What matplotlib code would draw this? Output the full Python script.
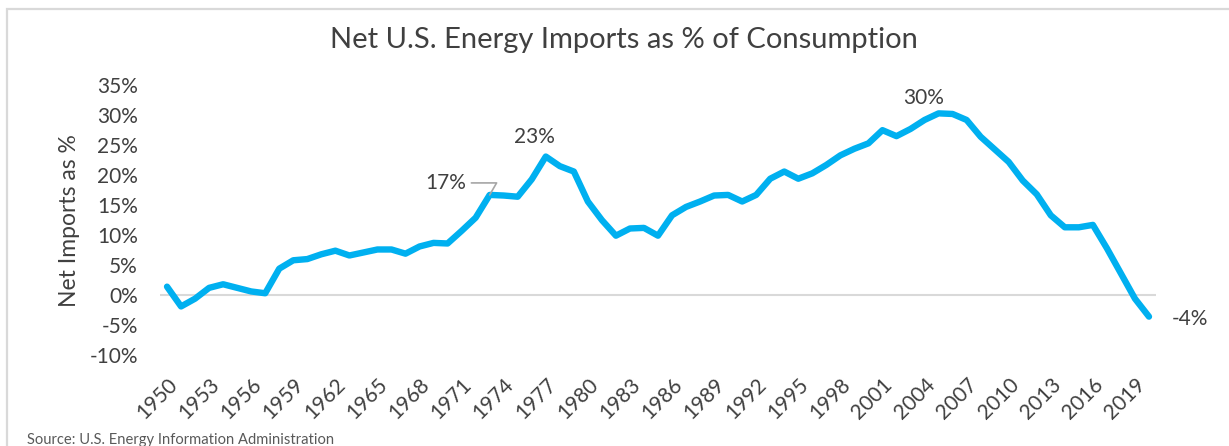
import matplotlib.pyplot as plt
from matplotlib.patches import Rectangle

years = list(range(1950, 2021))
net_imports = [
    1.4, -1.9, -0.6, 1.2, 1.8, 1.2, 0.6, 0.3, 4.4, 5.8,
    6.0, 6.8, 7.4, 6.6, 7.1, 7.6, 7.6, 6.9, 8.1, 8.7,
    8.6, 10.7, 12.9, 16.7, 16.6, 16.4, 19.3, 23.1, 21.5, 20.6,
    15.6, 12.5, 9.9, 11.1, 11.2, 9.9, 13.3, 14.7, 15.6, 16.6,
    16.7, 15.6, 16.7, 19.4, 20.6, 19.4, 20.3, 21.7, 23.3, 24.4,
    25.3, 27.5, 26.5, 27.7, 29.2, 30.3, 30.2, 29.2, 26.4, 24.3,
    22.2, 19.1, 16.8, 13.3, 11.3, 11.3, 11.7, 7.8, 3.6, -0.6,
    -3.6,
]
tick_years = list(range(1950, 2020, 3))
yticks = list(range(-10, 40, 5))

FONT = ['Lato', 'DejaVu Sans']
TXT = '#404040'
plt.rcParams['font.family'] = FONT

fig = plt.figure(figsize=(12.29, 4.46), dpi=100)
ax = fig.add_axes([0.1302, 0.204, 0.8104, 0.605])

# light frame round the chart
fig.patches.append(Rectangle((7 / 1229, -0.05), 1.1, 1 - 9 / 446 + 0.05,
                             transform=fig.transFigure, fill=False,
                             edgecolor='#d9d9d9', linewidth=1.6))

ax.axhline(0, color='#d9d9d9', linewidth=1.5, zorder=1)
ax.plot(years, net_imports, color='#00b0f0', linewidth=4.6,
        solid_joinstyle='round', solid_capstyle='round', zorder=3)

ax.set_xlim(1949.5, 2020.5)
ax.set_ylim(-10, 35)
ax.set_yticks(yticks)
ax.set_yticklabels([f'{v}%' for v in yticks])
ax.set_xticks(tick_years)
ax.set_xticklabels([str(y) for y in tick_years], rotation=45, ha='right',
                   rotation_mode='anchor')
ax.tick_params(axis='both', length=0, labelsize=15, colors=TXT)
ax.tick_params(axis='x', pad=14)
ax.tick_params(axis='y', pad=16)
for s in ax.spines.values():
    s.set_visible(False)

ax.set_ylabel('Net Imports as %', fontsize=16.5, color=TXT, labelpad=7)

# data labels
i73 = years.index(1973)
ax.annotate('17%', xy=(1973, net_imports[i73]), xytext=(1971.3, 18.7),
            fontsize=15, color=TXT, ha='right', va='center',
            arrowprops=dict(arrowstyle='-', color='#a6a6a6', lw=1.2,
                            connectionstyle='angle,angleA=0,angleB=60,rad=0',
                            shrinkA=2, shrinkB=0))
i77 = years.index(1977)
ax.text(1976.2, net_imports[i77] + 1.6, '23%', fontsize=15, color=TXT,
        ha='center', va='bottom')
i05 = years.index(2005)
ax.text(2003.9, net_imports[i05] + 0.9, '30%', fontsize=15, color=TXT,
        ha='center', va='bottom')
ax.text(2021.6, net_imports[-1] - 0.4, '-4%', fontsize=15, color=TXT,
        ha='left', va='center')

fig.text(624 / 1229, 1 - 40 / 446, 'Net U.S. Energy Imports as % of Consumption',
         fontsize=21, color=TXT, ha='center', va='center')
fig.text(27 / 1229, 1 - 440 / 446, 'Source: U.S. Energy Information Administration',
         fontsize=10.6, color='#595959', ha='left', va='center')

fig.savefig('out.png', dpi=100)
